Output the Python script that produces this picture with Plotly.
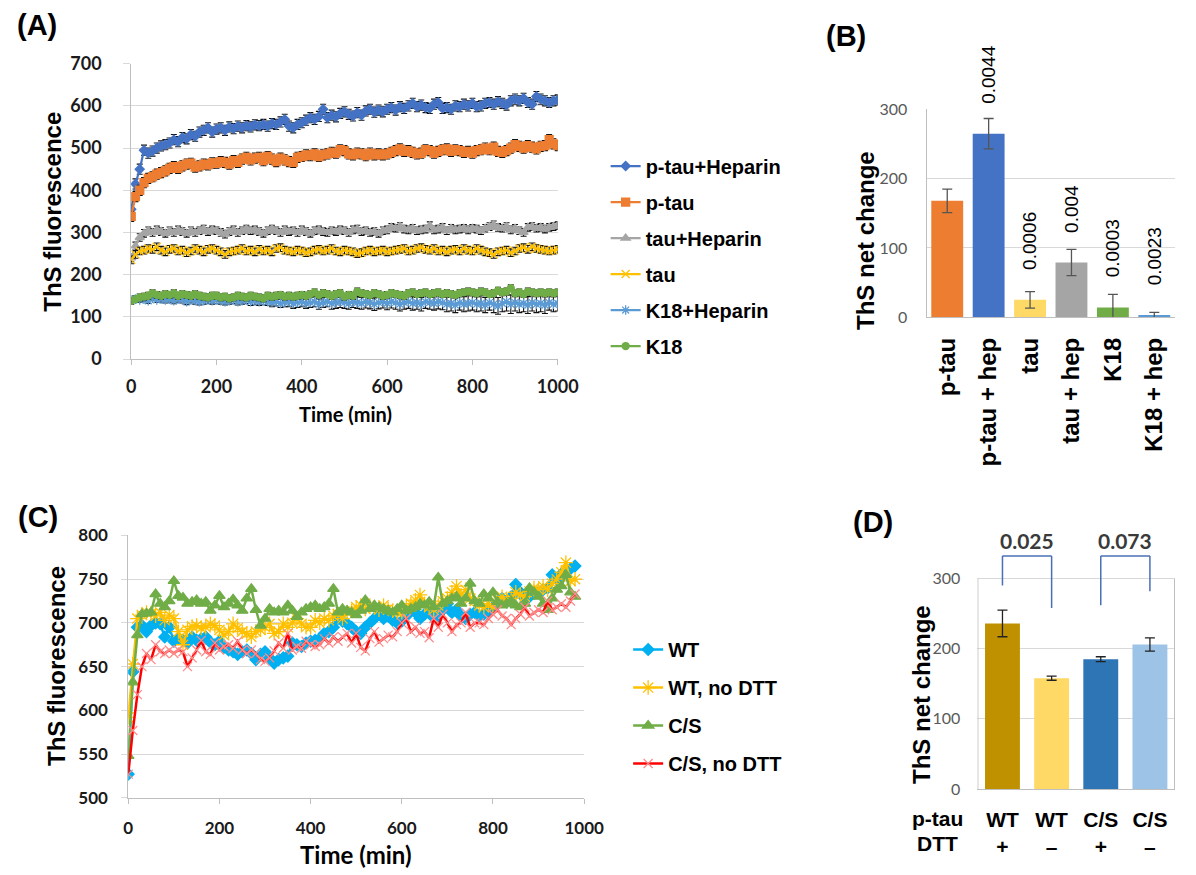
import plotly.graph_objects as go

W, H = 1196, 875


def px(x):
    return x / W


def py(y):
    return 1 - y / H


# ---------------- Panel A : ThS kinetics ----------------
time_a = [0, 10, 20, 30, 40, 50, 60, 70, 80, 90,
          100, 110, 120, 130, 140, 150, 160, 170, 180, 190,
          200, 210, 220, 230, 240, 250, 260, 270, 280, 290,
          300, 310, 320, 330, 340, 350, 360, 370, 380, 390,
          400, 410, 420, 430, 440, 450, 460, 470, 480, 490,
          500, 510, 520, 530, 540, 550, 560, 570, 580, 590,
          600, 610, 620, 630, 640, 650, 660, 670, 680, 690,
          700, 710, 720, 730, 740, 750, 760, 770, 780, 790,
          800, 810, 820, 830, 840, 850, 860, 870, 880, 890,
          900, 910, 920, 930, 940, 950, 960, 970, 980, 990, 1000]

a_ptau_hep = [355, 415, 450, 495, 488, 493, 500, 505, 508, 512,
              520, 515, 525, 522, 532, 528, 538, 542, 548, 538,
              545, 548, 542, 550, 546, 552, 548, 553, 550, 555,
              553, 556, 552, 558, 556, 562, 568, 552, 548, 556,
              560, 566, 572, 568, 575, 592, 572, 578, 574, 582,
              586, 580, 576, 584, 578, 588, 592, 585, 590, 586,
              592, 596, 590, 598, 594, 600, 606, 598, 602, 596,
              594, 604, 608, 594, 596, 592, 600, 598, 604, 600,
              606, 598, 600, 606, 608, 604, 610, 606, 602, 612,
              616, 612, 618, 608, 604, 622, 616, 612, 608, 612, 614]

a_ptau = [338, 385, 400, 418, 428, 432, 438, 442, 446, 452,
          456, 452, 458, 462, 464, 455, 458, 462, 460, 465,
          464, 468, 466, 462, 470, 466, 474, 478, 472, 476,
          478, 470, 480, 474, 468, 476, 472, 468, 466, 478,
          480, 484, 482, 486, 480, 484, 486, 490, 488, 496,
          494, 486, 484, 488, 486, 482, 488, 484, 486, 484,
          486, 490, 494, 498, 492, 494, 490, 486, 488, 496,
          494, 488, 492, 496, 498, 492, 496, 494, 490, 492,
          488, 494, 496, 500, 496, 502, 492, 490, 494, 500,
          508, 504, 500, 506, 502, 498, 504, 506, 520, 510, 506]

a_tau_hep = [240, 268, 288, 298, 304, 300, 306, 302, 298, 304,
             300, 306, 302, 298, 304, 300, 304, 308, 302, 306,
             304, 300, 296, 302, 306, 300, 304, 308, 304, 306,
             302, 298, 304, 308, 304, 300, 306, 302, 304, 300,
             306, 302, 298, 304, 306, 302, 300, 304, 302, 306,
             304, 300, 306, 308, 302, 304, 300, 302, 298, 304,
             306, 312, 310, 314, 308, 306, 310, 304, 306, 308,
             316, 306, 308, 312, 304, 310, 306, 308, 310, 306,
             310, 308, 304, 310, 314, 318, 312, 310, 314, 306,
             310, 304, 300, 312, 314, 310, 312, 308, 312, 314, 316]

a_tau = [235, 248, 256, 258, 262, 260, 266, 258, 254, 260,
         262, 256, 258, 252, 256, 262, 258, 254, 260, 262,
         258, 254, 248, 254, 256, 258, 262, 256, 258, 254,
         260, 256, 258, 254, 262, 264, 258, 256, 254, 258,
         256, 252, 254, 258, 260, 256, 258, 262, 256, 254,
         258, 256, 254, 250, 252, 256, 258, 254, 256, 258,
         254, 256, 258, 260, 262, 256, 258, 262, 264, 260,
         258, 262, 256, 258, 254, 258, 260, 256, 262, 258,
         256, 262, 258, 254, 252, 248, 254, 256, 258, 252,
         256, 262, 264, 260, 266, 262, 260, 258, 256, 258, 260]

a_k18_hep = [140, 142, 140, 142, 138, 144, 140, 142, 140, 142,
             138, 142, 140, 136, 140, 138, 136, 138, 140, 138,
             140, 138, 136, 138, 140, 136, 138, 140, 136, 138,
             136, 138, 136, 134, 136, 132, 134, 136, 132, 134,
             136, 132, 134, 136, 130, 134, 136, 132, 134, 136,
             134, 132, 136, 134, 132, 136, 134, 130, 134, 136,
             132, 136, 134, 130, 134, 136, 132, 134, 130, 136,
             134, 132, 136, 134, 130, 132, 128, 134, 130, 132,
             134, 130, 132, 128, 134, 130, 126, 132, 136, 130,
             134, 130, 132, 128, 134, 130, 132, 128, 134, 130, 132]

a_k18 = [138, 142, 146, 148, 150, 156, 152, 150, 154, 152,
         156, 150, 154, 152, 150, 154, 150, 148, 146, 150,
         150, 146, 148, 144, 146, 150, 148, 146, 150, 148,
         146, 144, 150, 148, 150, 152, 148, 150, 148, 150,
         152, 150, 154, 158, 152, 156, 154, 150, 154, 156,
         148, 152, 150, 160, 156, 154, 152, 156, 154, 150,
         152, 156, 154, 152, 150, 156, 158, 154, 156, 158,
         154, 156, 158, 154, 156, 154, 152, 156, 158, 160,
         158, 156, 160, 158, 154, 156, 162, 158, 160, 168,
         156, 158, 154, 160, 158, 156, 158, 156, 158, 156, 158]

a_err_k18_hep = [6, 6, 6, 6, 6, 6, 6, 7, 7, 7,
                 7, 7, 7, 7, 7, 8, 8, 8, 8, 8,
                 8, 8, 8, 8, 8, 8, 8, 8, 9, 9,
                 9, 9, 9, 10, 10, 10, 10, 12, 12, 12,
                 12, 12, 12, 12, 12, 12, 12, 14, 14, 14,
                 14, 14, 14, 14, 14, 15, 15, 15, 15, 15,
                 15, 15, 16, 16, 16, 16, 16, 16, 16, 16,
                 16, 16, 17, 17, 18, 18, 18, 18, 18, 18,
                 18, 18, 18, 18, 18, 20, 20, 20, 22, 22,
                 20, 20, 20, 20, 20, 20, 20, 20, 18, 18, 18]

a_names = ["p-tau+Heparin", "p-tau", "tau+Heparin", "tau", "K18+Heparin", "K18"]
a_series = [a_ptau_hep, a_ptau, a_tau_hep, a_tau, a_k18_hep, a_k18]
a_err_const = [12, 12, 9, 9, None, 8]

# ---------------- Panel B : net change bars ----------------
b_cats = ["p-tau", "p-tau + hep", "tau", "tau + hep", "K18", "K18 + hep"]
b_vals = [168, 265, 25, 79, 14, 3]
b_err = [17, 22, 12, 19, 19, 4]
b_pvals = ["", "0.0044", "0.0006", "0.004", "0.0003", "0.0023"]

# ---------------- Panel C : WT vs C/S kinetics ----------------
time_c = [0, 10, 20, 30, 40, 50, 60, 70, 80, 90,
          100, 110, 120, 130, 140, 150, 160, 170, 180, 190,
          200, 210, 220, 230, 240, 250, 260, 270, 280, 290,
          300, 310, 320, 330, 340, 350, 360, 370, 380, 390,
          400, 410, 420, 430, 440, 450, 460, 470, 480, 490,
          500, 510, 520, 530, 540, 550, 560, 570, 580, 590,
          600, 610, 620, 630, 640, 650, 660, 670, 680, 690,
          700, 710, 720, 730, 740, 750, 760, 770, 780, 790,
          800, 810, 820, 830, 840, 850, 860, 870, 880, 890,
          900, 910, 920, 930, 940, 950, 960, 970, 980]

c_wt = [527, 644, 695, 697, 690, 697, 700, 699, 684, 695,
        679, 682, 680, 677, 684, 680, 682, 684, 678, 675,
        679, 672, 669, 667, 664, 667, 669, 665, 658, 664,
        667, 660, 654, 658, 660, 662, 677, 675, 673, 677,
        679, 680, 682, 688, 690, 695, 705, 702, 699, 695,
        690, 688, 695, 700, 705, 710, 705, 708, 703, 700,
        702, 708, 716, 712, 705, 710, 712, 706, 708, 715,
        722, 712, 715, 708, 705, 710, 712, 708, 710, 714,
        718, 722, 728, 724, 730, 744, 735, 728, 730, 734,
        735, 738, 740, 755, 750, 756, 758, 762, 765]

c_wt_nodtt = [592, 653, 705, 709, 712, 711, 708, 712, 703, 709,
              705, 690, 675, 692, 696, 697, 694, 695, 699, 697,
              692, 686, 690, 699, 694, 690, 688, 684, 690, 692,
              695, 699, 688, 690, 699, 695, 700, 705, 699, 695,
              695, 703, 700, 705, 703, 708, 710, 705, 712, 714,
              718, 720, 716, 720, 718, 715, 720, 716, 714, 712,
              712, 718, 722, 726, 732, 722, 718, 715, 720, 725,
              728, 735, 742, 732, 738, 728, 725, 720, 718, 722,
              718, 726, 730, 725, 728, 735, 732, 730, 736, 740,
              738, 742, 738, 745, 750, 758, 769, 748, 750]

c_cs = [548, 632, 686, 710, 711, 712, 733, 722, 718, 725,
        748, 731, 729, 722, 724, 726, 722, 724, 714, 720,
        731, 718, 722, 727, 720, 714, 728, 739, 715, 697,
        705, 716, 712, 714, 712, 720, 714, 707, 712, 716,
        718, 720, 716, 718, 722, 739, 712, 716, 714, 712,
        709, 714, 726, 716, 720, 718, 716, 714, 712, 716,
        720, 714, 716, 718, 722, 720, 724, 718, 752, 722,
        725, 728, 730, 722, 728, 745, 725, 722, 733, 728,
        735, 724, 720, 722, 725, 720, 718, 722, 740, 735,
        730, 722, 715, 728, 738, 742, 755, 735, 730]

c_cs_nodtt = [527, 577, 618, 650, 665, 658, 675, 667, 665, 669,
              665, 669, 667, 650, 660, 669, 680, 667, 664, 677,
              669, 673, 675, 671, 679, 669, 665, 669, 665, 658,
              656, 660, 668, 677, 671, 688, 669, 673, 671, 679,
              675, 673, 675, 682, 677, 684, 679, 684, 688, 677,
              688, 672, 668, 682, 690, 678, 682, 686, 684, 690,
              700, 705, 690, 695, 688, 690, 683, 705, 695, 710,
              700, 690, 698, 700, 712, 695, 700, 700, 698, 705,
              710, 715, 708, 705, 698, 705, 710, 718, 708, 712,
              715, 712, 725, 715, 718, 722, 718, 725, 733]

c_names = ["WT", "WT, no DTT", "C/S", "C/S, no DTT"]
c_series = [c_wt, c_wt_nodtt, c_cs, c_cs_nodtt]

# ---------------- Panel D : net change bars ----------------
d_cats = ["WT +", "WT –", "C/S +", "C/S –"]
d_ptau = ["WT", "WT", "C/S", "C/S"]
d_dtt = ["+", "–", "+", "–"]
d_vals = [236, 158, 185, 206]
d_err = [19, 3, 3.5, 9.5]
d_pvals = ["0.025", "0.073"]

# ---------------- styles ----------------
a_styles = [
    dict(color="#4472C4", symbol="diamond", size=7),
    dict(color="#ED7D31", symbol="square", size=8),
    dict(color="#A5A5A5", symbol="triangle-up", size=8),
    dict(color="#FFC000", symbol="x-thin-open", size=8),
    dict(color="#5B9BD5", symbol="asterisk-open", size=8),
    dict(color="#70AD47", symbol="circle", size=7),
]
c_styles = [
    dict(line="#00B0F0", mk="#00B0F0", symbol="diamond", size=9),
    dict(line="#FFC000", mk="#FFC000", symbol="asterisk-open", size=12),
    dict(line="#70AD47", mk="#70AD47", symbol="triangle-up", size=10),
    dict(line="#FF0000", mk="#FF8C8C", symbol="x-thin-open", size=9),
]
b_colors = ["#ED7D31", "#4472C4", "#FFD966", "#A5A5A5", "#70AD47", "#5B9BD5"]
d_colors = ["#BF9000", "#FFD966", "#2E75B6", "#9DC3E6"]

TITLE_FONT = "Liberation Sans, Arial, sans-serif"
TICK_FONT = "Lato, sans-serif"
GRID = "#D9D9D9"
AXIS = "#BFBFBF"

fig = go.Figure()

# Panel A traces
for i, (name, ys, st) in enumerate(zip(a_names, a_series, a_styles)):
    if a_err_const[i] is None:
        err = dict(type="data", array=a_err_k18_hep, color="#111111", thickness=1.1, width=3)
    else:
        err = dict(type="constant", value=a_err_const[i], color="#111111", thickness=1.1, width=3)
    fig.add_trace(go.Scatter(
        x=time_a, y=ys, name=name, mode="lines+markers",
        line=dict(color=st["color"], width=2.2),
        marker=dict(color=st["color"], symbol=st["symbol"], size=st["size"],
                    line=dict(color=st["color"], width=1.3)),
        error_y=err, xaxis="x", yaxis="y", legend="legend",
        legendgroup="a%d" % i,
    ))

# Panel B bars
fig.add_trace(go.Bar(
    x=b_cats, y=b_vals, marker=dict(color=b_colors, line=dict(width=0)),
    error_y=dict(type="data", array=b_err, color="#555555", thickness=1.3, width=5),
    xaxis="x2", yaxis="y2", showlegend=False, width=0.77,
))

# Panel C traces
for i, (name, ys, st) in enumerate(zip(c_names, c_series, c_styles)):
    fig.add_trace(go.Scatter(
        x=time_c, y=ys, name=name, mode="lines+markers",
        line=dict(color=st["line"], width=2.5),
        marker=dict(color=st["mk"], symbol=st["symbol"], size=st["size"],
                    line=dict(color=st["mk"], width=1.3)),
        xaxis="x3", yaxis="y3", legend="legend2",
        legendgroup="c%d" % i,
    ))

# Panel D bars
fig.add_trace(go.Bar(
    x=d_cats, y=d_vals, marker=dict(color=d_colors, line=dict(width=0)),
    error_y=dict(type="data", array=d_err, color="#222222", thickness=1.3, width=5),
    xaxis="x4", yaxis="y4", showlegend=False, width=0.71,
))

tick_a = dict(family=TICK_FONT, size=18, color="#1a1a1a", weight="bold")
tick_c = dict(family=TICK_FONT, size=17, color="#1a1a1a", weight="bold")
tick_gray = dict(family=TICK_FONT, size=16, color="#595959")

layout = dict(
    width=W, height=H, margin=dict(l=0, r=0, t=0, b=0),
    paper_bgcolor="white", plot_bgcolor="white",
    barmode="group",
    # A
    xaxis=dict(domain=[px(129), px(565)], range=[0, 1000], dtick=200, anchor="y",
               showgrid=False, zeroline=False, showline=True, linecolor=AXIS,
               ticks="outside", ticklen=5, tickcolor=AXIS, tickfont=tick_a,
               ticklabelstandoff=6),
    yaxis=dict(domain=[py(356), py(53)], range=[0, 700], dtick=100, anchor="x",
               showgrid=True, gridcolor=GRID, zeroline=False, showline=True, linecolor=AXIS,
               ticks="outside", ticklen=7, tickcolor=GRID, tickfont=tick_a,
               ticklabelstandoff=18),
    # B
    xaxis2=dict(domain=[px(942), 1.0], anchor="y2", type="category",
                showgrid=False, showline=True, linecolor=AXIS, ticks="",
                tickangle=-90, ticklabelstandoff=10,
                tickfont=dict(family=TITLE_FONT, size=24, color="black", weight="bold")),
    yaxis2=dict(domain=[py(313), py(100)], range=[0, 300], dtick=100, anchor="x2",
                showgrid=True, gridcolor=GRID, zeroline=False, showline=True, linecolor=AXIS,
                ticks="", tickfont=tick_gray, ticklabelstandoff=15),
    # C
    xaxis3=dict(domain=[px(126), px(592)], range=[0, 1000], dtick=200, anchor="y3",
                showgrid=False, zeroline=False, showline=True, linecolor=AXIS,
                ticks="outside", ticklen=5, tickcolor=AXIS, tickfont=tick_c,
                ticklabelstandoff=10),
    yaxis3=dict(domain=[py(806), py(537)], range=[500, 800], dtick=50, anchor="x3",
                showgrid=True, gridcolor=GRID, zeroline=False, showline=True, linecolor=AXIS,
                ticks="outside", ticklen=6, tickcolor=GRID, tickfont=tick_c,
                ticklabelstandoff=10),
    # D
    xaxis4=dict(domain=[px(994), 1.0], anchor="y4", type="category",
                showgrid=False, showline=True, linecolor=AXIS, ticks="",
                tickmode="array", tickvals=d_cats,
                ticktext=["%s<br>%s" % (p, d) for p, d in zip(d_ptau, d_dtt)],
                ticklabelstandoff=12,
                tickfont=dict(family=TITLE_FONT, size=21, color="black", weight="bold")),
    yaxis4=dict(domain=[py(797), py(538)], range=[0, 360], tickvals=[0, 100, 200, 300],
                anchor="x4", showgrid=True, gridcolor=GRID, zeroline=False, showline=False,
                ticks="", tickfont=tick_gray, ticklabelstandoff=16),
    legend=dict(x=px(614), xanchor="left", y=py(138), yanchor="top",
                font=dict(family=TITLE_FONT, size=20, color="black", weight="bold"),
                tracegroupgap=7, bgcolor="rgba(0,0,0,0)", itemwidth=30),
    legend2=dict(x=px(637), xanchor="left", y=py(634), yanchor="top",
                 font=dict(family=TITLE_FONT, size=20, color="black", weight="bold"),
                 tracegroupgap=9, bgcolor="rgba(0,0,0,0)", itemwidth=30),
)
fig.update_layout(**layout)

ann = []
# panel labels
for txt, x, y in [("(A)", 33, 13), ("(B)", 860, 25), ("(C)", 34, 518), ("(D)", 887, 523)]:
    ann.append(dict(text=txt, x=px(x), y=py(y), xref="paper", yref="paper",
                    showarrow=False, xanchor="center", yanchor="middle",
                    font=dict(family=TITLE_FONT, size=29, color="black", weight="bold")))
# axis titles
title_font = dict(family=TITLE_FONT, size=24, color="black", weight="bold")
for txt, x, y in [("ThS fluorescence", 49, 205), ("ThS net change", 879, 234),
                  ("ThS fluorescence", 52, 671), ("ThS net change", 937, 700)]:
    ann.append(dict(text=txt, x=px(x), y=py(y), xref="paper", yref="paper",
                    showarrow=False, textangle=-90, xanchor="center", yanchor="middle",
                    font=title_font))
ann.append(dict(text="Time (min)", x=px(348), y=py(412), xref="paper", yref="paper",
                showarrow=False, xanchor="center", yanchor="middle",
                font=dict(family=TICK_FONT, size=20, color="black", weight="bold")))
ann.append(dict(text="Time (min)", x=px(359), y=py(864), xref="paper", yref="paper",
                showarrow=False, xanchor="center", yanchor="middle",
                font=dict(family=TICK_FONT, size=24, color="black", weight="bold")))
# B p-values
for c, v, p in zip(b_cats, b_vals, b_pvals):
    if p:
        ann.append(dict(text=p, x=c, y=v, xref="x2", yref="y2", showarrow=False,
                        textangle=-90, yanchor="bottom", xanchor="center", yshift=28,
                        font=dict(family=TITLE_FONT, size=19, color="black")))
# D row labels
for txt, y in [("p-tau", 827), ("DTT", 853)]:
    ann.append(dict(text=txt, x=px(953), y=py(y), xref="paper", yref="paper",
                    showarrow=False, xanchor="center", yanchor="middle",
                    font=dict(family=TITLE_FONT, size=21, color="black", weight="bold")))
# D p-values over brackets
for k, p in enumerate(d_pvals):
    ann.append(dict(text=p, x=2 * k + 0.5, y=354, xref="x4", yref="y4", showarrow=False,
                    xanchor="center", yanchor="middle",
                    font=dict(family=TICK_FONT, size=21, color="#3a3a3a", weight="bold")))
fig.update_layout(annotations=ann)

shapes = []
# D axis line and right border (limited to 0..300)
for xv in (-0.5, 3.5):
    shapes.append(dict(type="line", xref="x4", yref="y4", x0=xv, x1=xv, y0=0, y1=300,
                       line=dict(color=AXIS, width=1)))
# D brackets
brk = "#4A6FB5"
for (x0, x1, yl, yr) in [(0, 1, 290, 258), (2, 3, 262, 282)]:
    shapes.append(dict(type="line", xref="x4", yref="y4", x0=x0, x1=x0, y0=yl, y1=332,
                       line=dict(color=brk, width=1.5)))
    shapes.append(dict(type="line", xref="x4", yref="y4", x0=x0, x1=x1, y0=332, y1=332,
                       line=dict(color=brk, width=1.5)))
    shapes.append(dict(type="line", xref="x4", yref="y4", x0=x1, x1=x1, y0=332, y1=yr,
                       line=dict(color=brk, width=1.5)))
fig.update_layout(shapes=shapes)

fig.write_html("out.html", config={"displayModeBar": False})
